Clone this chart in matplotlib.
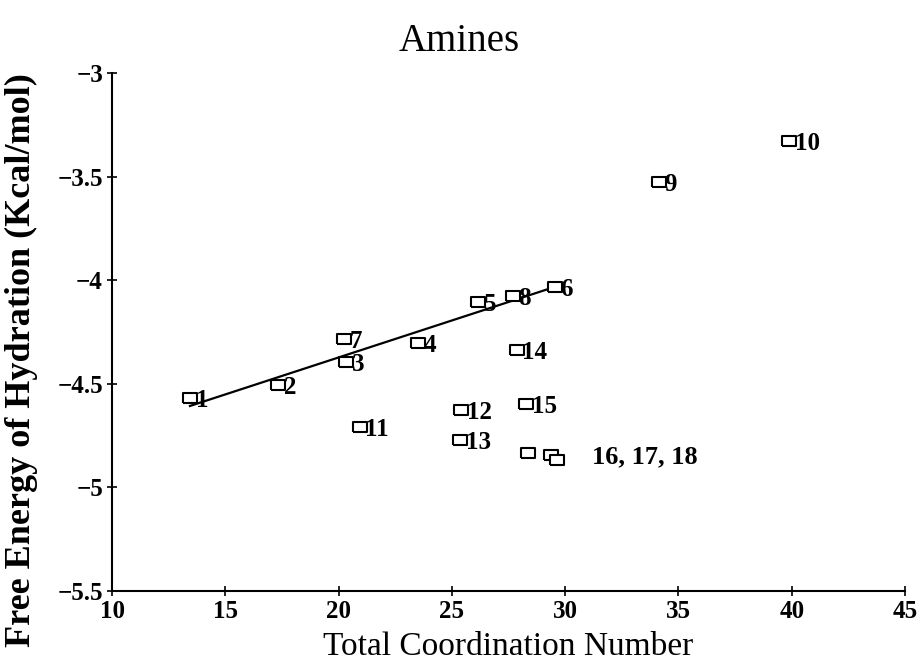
import matplotlib
matplotlib.use("Agg")
import matplotlib.pyplot as plt

# Amine hydration data
labels = ["1", "2", "3", "4", "5", "6", "7", "8", "9", "10",
          "11", "12", "13", "14", "15", "16", "17", "18"]
coord_num = [13.44, 17.33, 20.33, 23.51, 26.15, 29.55, 20.24, 27.70, 34.14, 39.88,
             20.94, 25.40, 25.36, 27.87, 28.27, 28.36, 29.37, 29.64]
free_energy = [-4.568, -4.506, -4.395, -4.303, -4.105, -4.033, -4.284, -4.076, -3.526, -3.328,
               -4.708, -4.626, -4.771, -4.337, -4.597, -4.834, -4.844, -4.868]

# regression line over compounds 1-8
fit_x = [13.44, 29.55]
fit_y = [-4.607, -4.032]

x_ticks = [10, 15, 20, 25, 30, 35, 40, 45]
y_ticks = [-5.5, -5, -4.5, -4, -3.5, -3]
y_tick_labels = ["\u22125.5", "\u22125", "\u22124.5", "\u22124", "\u22123.5", "\u22123"]

plt.rcParams["font.family"] = ["Liberation Serif", "DejaVu Serif"]
plt.rcParams["font.weight"] = "bold"

fig = plt.figure(figsize=(9.22, 6.68), dpi=100)
ax = fig.add_axes([0.1215, 0.1153, 0.8601, 0.7754])

# wide open rectangle marker like the original plot
rect = [(-1.4, -1), (1.4, -1), (1.4, 1), (-1.4, 1), (-1.4, -1)]

ax.plot(fit_x, fit_y, color="black", lw=1.6, zorder=2)
ax.plot(coord_num, free_energy, linestyle="none", marker=rect, markersize=10,
        markerfacecolor="white", markeredgecolor="black", markeredgewidth=1.5, zorder=3)

for lab, x, y in zip(labels, coord_num, free_energy):
    if lab in ("16", "17"):
        continue
    if lab == "18":
        lab = "16, 17, 18"
        off = (25, 2)
        fs = 19
    else:
        off = (4, -2)
        fs = 18
    ax.annotate(lab, (x, y), xytext=off, textcoords="offset points",
                ha="left", va="center", fontsize=fs, fontweight="bold")

ax.set_xlim(10, 45)
ax.set_ylim(-5.5, -3)
ax.set_xticks(x_ticks)
ax.set_yticks(y_ticks)
ax.set_yticklabels(y_tick_labels)
ax.tick_params(direction="inout", length=7, width=1.2, labelsize=18, pad=3)

ax.spines["top"].set_visible(False)
ax.spines["right"].set_visible(False)
ax.spines["left"].set_linewidth(1.5)
ax.spines["bottom"].set_linewidth(1.5)

ax.set_xlabel("Total Coordination Number", fontsize=24, fontweight="normal", labelpad=6)
ax.set_ylabel("Free Energy of Hydration (Kcal/mol)", fontsize=26, fontweight="bold")
ax.yaxis.set_label_coords(-0.093, 0.445)
ax.set_title("Amines", fontsize=28, fontweight="normal", x=0.4376, pad=16)

fig.savefig("out.png", dpi=100)
